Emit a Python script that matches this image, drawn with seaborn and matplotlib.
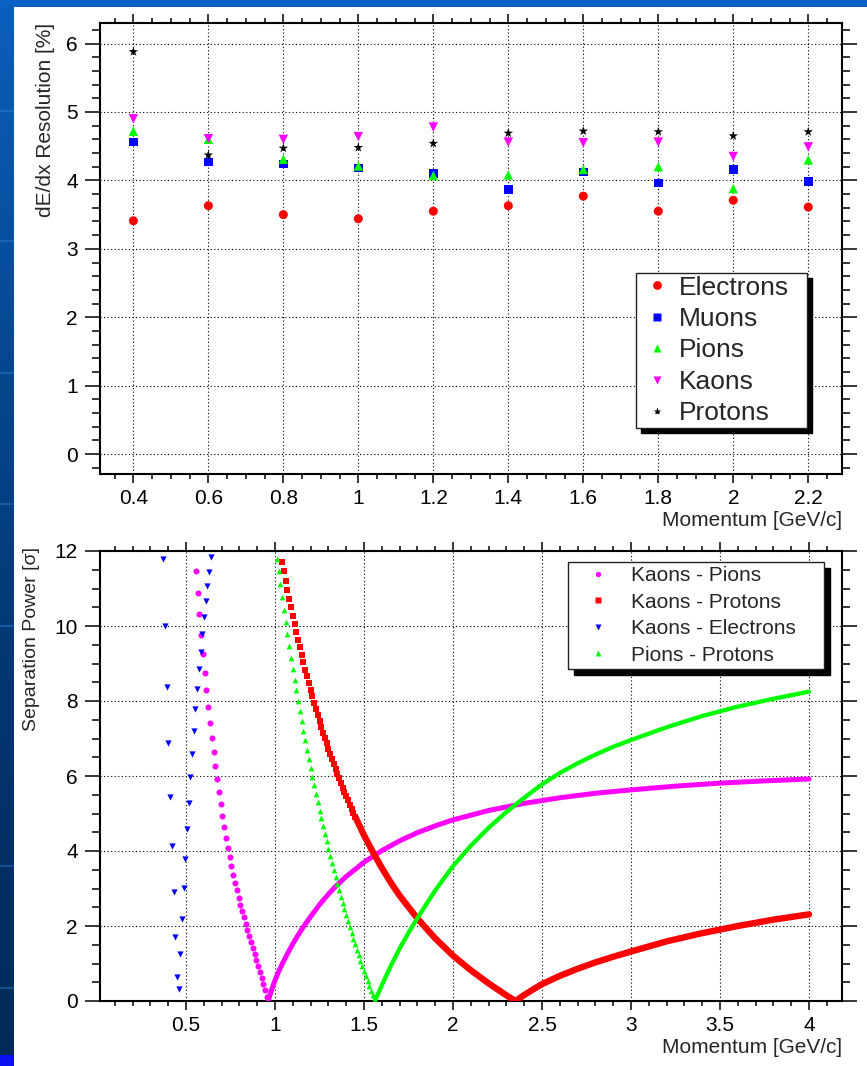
import matplotlib
matplotlib.use("Agg")
import matplotlib.pyplot as plt
import numpy as np
import pandas as pd
import seaborn as sns
from matplotlib.ticker import MultipleLocator, FuncFormatter
from matplotlib.lines import Line2D
from matplotlib.patches import Rectangle
from matplotlib.colors import LinearSegmentedColormap

# ---------------- top panel data: dE/dx resolution ----------------
momentum = [0.4, 0.6, 0.8, 1.0, 1.2, 1.4, 1.6, 1.8, 2.0, 2.2]
species = ["Electrons", "Muons", "Pions", "Kaons", "Protons"]
res_electrons = [3.41, 3.63, 3.50, 3.44, 3.55, 3.63, 3.77, 3.55, 3.71, 3.61]
res_muons = [4.56, 4.27, 4.24, 4.18, 4.10, 3.87, 4.12, 3.96, 4.16, 3.98]
res_pions = [4.72, 4.60, 4.31, 4.21, 4.07, 4.08, 4.16, 4.20, 3.88, 4.30]
res_kaons = [4.90, 4.61, 4.60, 4.64, 4.78, 4.56, 4.55, 4.56, 4.35, 4.49]
res_protons = [5.88, 4.37, 4.47, 4.48, 4.54, 4.69, 4.72, 4.71, 4.65, 4.71]

# ---------------- bottom panel data: separation power ----------------
pair_labels = ["Kaons - Pions", "Kaons - Protons", "Kaons - Electrons", "Pions - Protons"]

# Kaons - Electrons (individual markers)
ke_p = [0.373, 0.382, 0.392, 0.401, 0.411, 0.420, 0.430, 0.439, 0.449, 0.458,
        0.468, 0.477, 0.487, 0.496, 0.506, 0.515, 0.525, 0.534, 0.544, 0.553,
        0.563, 0.572, 0.582, 0.591, 0.601, 0.610, 0.620, 0.629, 0.639]
ke_s = [11.78, 10.00, 8.38, 6.87, 5.45, 4.13, 2.92, 1.72, 0.65, 0.31,
        1.25, 2.18, 3.02, 3.80, 4.58, 5.28, 5.97, 6.60, 7.20, 7.78,
        8.31, 8.85, 9.32, 9.80, 10.25, 10.67, 11.08, 11.45, 11.83]

# Kaons - Pions: steep branch (separate markers) and dense branch
kpi_steep_p = [0.555, 0.565, 0.575, 0.585, 0.595, 0.605, 0.615, 0.625, 0.635, 0.645,
               0.655, 0.665, 0.675, 0.685, 0.695, 0.705, 0.715, 0.725, 0.735, 0.745,
               0.755, 0.765, 0.775, 0.785, 0.795, 0.805, 0.815, 0.825, 0.835, 0.845,
               0.855, 0.865, 0.875, 0.885, 0.895, 0.905, 0.915, 0.925, 0.935, 0.945,
               0.955]
kpi_steep_s = [11.48, 10.88, 10.31, 9.77, 9.25, 8.76, 8.29, 7.85, 7.42, 7.02,
               6.63, 6.26, 5.91, 5.57, 5.25, 4.94, 4.65, 4.36, 4.09, 3.84,
               3.60, 3.37, 3.16, 2.95, 2.76, 2.57, 2.40, 2.23, 2.06, 1.89,
               1.73, 1.57, 1.41, 1.25, 1.09, 0.93, 0.77, 0.61, 0.45, 0.29,
               0.12]
kpi_dense_p = [0.962, 0.97, 0.98, 0.99, 1.00, 1.02, 1.04, 1.06, 1.08, 1.10,
               1.13, 1.16, 1.20, 1.25, 1.30, 1.35, 1.40, 1.50, 1.60, 1.70,
               1.80, 1.90, 2.00, 2.20, 2.40, 2.60, 2.80, 3.00, 3.25, 3.50,
               3.75, 4.00]
kpi_dense_s = [0.0, 0.13, 0.28, 0.42, 0.55, 0.78, 0.98, 1.17, 1.35, 1.52,
               1.76, 1.98, 2.25, 2.57, 2.85, 3.10, 3.32, 3.70, 4.01, 4.27,
               4.49, 4.67, 4.83, 5.08, 5.27, 5.42, 5.54, 5.63, 5.73, 5.81,
               5.87, 5.92]

# Kaons - Protons
kpr_steep_p = [1.04, 1.05, 1.06, 1.07, 1.08, 1.09, 1.10, 1.11, 1.12, 1.13,
               1.14, 1.15, 1.16, 1.17, 1.18, 1.19, 1.20, 1.21, 1.22, 1.23,
               1.24, 1.25, 1.26, 1.27, 1.28, 1.29, 1.30, 1.31, 1.32, 1.33,
               1.34, 1.35, 1.36, 1.37, 1.38, 1.39, 1.40, 1.41, 1.42, 1.43,
               1.44, 1.45]
kpr_steep_s = [11.71, 11.46, 11.21, 10.96, 10.73, 10.50, 10.27, 10.05, 9.84, 9.63,
               9.43, 9.23, 9.03, 8.84, 8.66, 8.48, 8.30, 8.13, 7.96, 7.79,
               7.63, 7.47, 7.32, 7.16, 7.02, 6.87, 6.73, 6.59, 6.45, 6.32,
               6.19, 6.06, 5.94, 5.82, 5.69, 5.58, 5.46, 5.35, 5.24, 5.13,
               5.02, 4.92]
kpr_dense_p = [1.45, 1.50, 1.55, 1.60, 1.65, 1.70, 1.80, 1.90, 2.00, 2.10,
               2.20, 2.30, 2.35, 2.40, 2.45, 2.50, 2.60, 2.70, 2.80, 2.90,
               3.00, 3.20, 3.40, 3.60, 3.80, 4.00]
kpr_dense_s = [4.92, 4.42, 3.97, 3.55, 3.16, 2.81, 2.20, 1.67, 1.21, 0.82,
               0.47, 0.15, 0.0, 0.16, 0.31, 0.45, 0.67, 0.86, 1.03, 1.18,
               1.32, 1.59, 1.81, 2.00, 2.17, 2.31]

# Pions - Protons
pipr_steep_p = [1.01, 1.02, 1.03, 1.04, 1.05, 1.06, 1.07, 1.08, 1.09, 1.10,
                1.11, 1.12, 1.13, 1.14, 1.15, 1.16, 1.17, 1.18, 1.19, 1.20,
                1.21, 1.22, 1.23, 1.24, 1.25, 1.26, 1.27, 1.28, 1.29, 1.30,
                1.31, 1.32, 1.33, 1.34, 1.35, 1.36, 1.37, 1.38, 1.39, 1.40,
                1.41, 1.42, 1.43, 1.44, 1.45, 1.46, 1.47, 1.48, 1.49, 1.50,
                1.51, 1.52, 1.53, 1.54, 1.55, 1.56]
pipr_steep_s = [11.78, 11.46, 11.11, 10.77, 10.43, 10.10, 9.78, 9.47, 9.16, 8.86,
                8.57, 8.29, 8.01, 7.73, 7.47, 7.20, 6.95, 6.70, 6.45, 6.21,
                5.98, 5.75, 5.52, 5.30, 5.08, 4.87, 4.66, 4.46, 4.26, 4.06,
                3.87, 3.68, 3.49, 3.31, 3.13, 2.96, 2.78, 2.62, 2.45, 2.29,
                2.13, 1.97, 1.81, 1.66, 1.51, 1.37, 1.22, 1.08, 0.94, 0.80,
                0.67, 0.53, 0.40, 0.28, 0.15, 0.02]
pipr_dense_p = [1.56, 1.58, 1.60, 1.65, 1.70, 1.75, 1.80, 1.90, 2.00, 2.10,
                2.20, 2.30, 2.40, 2.50, 2.60, 2.70, 2.80, 2.90, 3.00, 3.20,
                3.40, 3.60, 3.80, 4.00]
pipr_dense_s = [0.0, 0.20, 0.42, 0.93, 1.40, 1.82, 2.21, 2.95, 3.60, 4.14,
                4.62, 5.04, 5.42, 5.78, 6.08, 6.34, 6.57, 6.78, 6.96, 7.30,
                7.60, 7.85, 8.06, 8.25]

# ---------------- style ----------------
sns.set_style("ticks")
plt.rcParams["font.family"] = ["Liberation Sans", "DejaVu Sans"]
plt.rcParams["axes.unicode_minus"] = False

W, H = 867, 1066
fig = plt.figure(figsize=(W / 100, H / 100), dpi=100, facecolor="white")

# slide background decoration (blue left/top border)
bg = fig.add_axes([0, 0, 1, 1], zorder=-10)
bg.set_xlim(0, W)
bg.set_ylim(H, 0)
bg.axis("off")
cmap = LinearSegmentedColormap.from_list("slide", ["#0b5fbd", "#064890", "#03356f", "#022a58"])
bg.imshow(np.linspace(0, 1, 256)[:, None], cmap=cmap, extent=[0, 14, H, 0], aspect="auto")
bg.add_patch(Rectangle((0, 0), W, 7, color="#0a63c4", lw=0))
for yy in [110, 240, 372, 503, 625, 865, 987]:
    bg.add_patch(Rectangle((0, yy), 14, 2, color="#2a7fd8", alpha=0.45, lw=0))
bg.add_patch(Rectangle((0, 1055), 14, 11, color="#0a12f2", lw=0))

ax1 = fig.add_axes([100 / W, 1 - 474 / H, 742 / W, 451 / H])
ax2 = fig.add_axes([100 / W, 1 - 1001 / H, 742 / W, 450 / H])


def style_axes(ax, xmaj, xminor, ymaj, yminor):
    for sp in ax.spines.values():
        sp.set_visible(True)
        sp.set_linewidth(1.5)
        sp.set_color("black")
    ax.set_facecolor("white")
    ax.xaxis.set_major_locator(MultipleLocator(xmaj))
    ax.xaxis.set_minor_locator(MultipleLocator(xminor))
    ax.yaxis.set_major_locator(MultipleLocator(ymaj))
    ax.yaxis.set_minor_locator(MultipleLocator(yminor))
    fmt = FuncFormatter(lambda v, _: f"{v:g}")
    ax.xaxis.set_major_formatter(fmt)
    ax.yaxis.set_major_formatter(fmt)
    ax.tick_params(axis="both", which="both", direction="out", top=True, right=True,
                   labeltop=False, labelright=False, width=1.1, color="black",
                   labelsize=15, labelcolor="black")
    ax.tick_params(axis="x", which="major", length=6.8, pad=4)
    ax.tick_params(axis="x", which="minor", length=3.6)
    ax.tick_params(axis="y", which="major", length=11, pad=5)
    ax.tick_params(axis="y", which="minor", length=6)
    ax.grid(True, which="major", color="black", linestyle=(0, (1, 2.2)), linewidth=0.8)
    ax.set_axisbelow(True)


# ---------------- top panel ----------------
df_top = pd.DataFrame({
    "Momentum": momentum * len(species),
    "Resolution": res_electrons + res_muons + res_pions + res_kaons + res_protons,
    "Species": np.repeat(species, len(momentum)),
})
top_palette = {"Electrons": "#ff0000", "Muons": "#0000ff", "Pions": "#00ff00",
               "Kaons": "#ff00ff", "Protons": "#000000"}
top_markers = {"Electrons": "o", "Muons": "s", "Pions": "^", "Kaons": "v", "Protons": "*"}
top_sizes = {"Electrons": 42, "Muons": 38, "Pions": 46, "Kaons": 46, "Protons": 52}
sns.scatterplot(data=df_top, x="Momentum", y="Resolution", hue="Species", style="Species",
                size="Species", hue_order=species, style_order=species, size_order=species,
                palette=top_palette, markers=top_markers, sizes=top_sizes,
                linewidth=0, legend=False, ax=ax1, zorder=3)
ax1.set_xlim(0.311, 2.29)
ax1.set_ylim(-0.29, 6.3)
style_axes(ax1, 0.2, 0.05, 1, 0.2)
ax1.set_xlabel("Momentum [GeV/c]", fontsize=15, loc="right")
ax1.xaxis.set_label_coords(1.0, -0.082)
ax1.set_ylabel("dE/dx Resolution [%]", fontsize=15, loc="top")
ax1.yaxis.set_label_coords(-0.0606, 1.0)

h1 = [Line2D([0], [0], marker=top_markers[s], linestyle="none", markerfacecolor=top_palette[s],
             markeredgecolor="none", markersize=(6.3 if s != "Protons" else 6.0)) for s in species]
leg1 = ax1.legend(h1, species, loc="upper left", bbox_to_anchor=(0.7224, 0.4457 - 0.5, 0.2305, 0.5),
                  mode="expand", borderaxespad=0, fontsize=19, frameon=True, fancybox=False,
                  edgecolor="#222222", facecolor="white", framealpha=1, borderpad=0.1,
                  labelspacing=0.28, handlelength=1.39, handletextpad=0.14,
                  shadow={"ox": 3.6, "oy": -3.6, "shade": 1.0, "alpha": 1.0})
leg1.get_frame().set_linewidth(1.0)

# ---------------- bottom panel ----------------
c_kpi, c_kpr, c_ke, c_pipr = "#ff00ff", "#ff0000", "#0000ff", "#00ff00"

sns.lineplot(x=kpi_dense_p, y=kpi_dense_s, color=c_kpi, linewidth=3.6, estimator=None,
             sort=False, ax=ax2, zorder=3, solid_capstyle="round", solid_joinstyle="round")
sns.scatterplot(x=kpi_steep_p, y=kpi_steep_s, color=c_kpi, marker="o", s=19, linewidth=0,
                ax=ax2, zorder=3)
sns.lineplot(x=kpr_dense_p, y=kpr_dense_s, color=c_kpr, linewidth=4.6, estimator=None,
             sort=False, ax=ax2, zorder=4, solid_capstyle="round", solid_joinstyle="round")
sns.scatterplot(x=kpr_steep_p, y=kpr_steep_s, color=c_kpr, marker="s", s=19, linewidth=0,
                ax=ax2, zorder=4)
sns.scatterplot(x=ke_p, y=ke_s, color=c_ke, marker="v", s=20, linewidth=0, ax=ax2, zorder=5)
sns.lineplot(x=pipr_dense_p, y=pipr_dense_s, color=c_pipr, linewidth=3.1, estimator=None,
             sort=False, ax=ax2, zorder=6, solid_capstyle="round", solid_joinstyle="round")
sns.scatterplot(x=pipr_steep_p, y=pipr_steep_s, color=c_pipr, marker="^", s=17, linewidth=0,
                ax=ax2, zorder=6)

ax2.set_xlim(0.017, 4.185)
ax2.set_ylim(0, 12)
style_axes(ax2, 0.5, 0.1, 2, 0.5)
ax2.set_xlabel("Momentum [GeV/c]", fontsize=15, loc="right")
ax2.xaxis.set_label_coords(1.0, -0.082)
ax2.set_ylabel("Separation Power [σ]", fontsize=14, loc="top")
ax2.yaxis.set_label_coords(-0.081, 1.009)

h2 = [Line2D([0], [0], marker=m, linestyle="none", markerfacecolor=c, markeredgecolor="none",
             markersize=3.8)
      for m, c in zip(["o", "s", "v", "^"], [c_kpi, c_kpr, c_ke, c_pipr])]
leg2 = ax2.legend(h2, pair_labels, loc="upper left", bbox_to_anchor=(0.6307, 0.9756 - 0.5, 0.345, 0.5),
                  mode="expand", borderaxespad=0, fontsize=15, frameon=True, fancybox=False,
                  edgecolor="#222222", facecolor="white", framealpha=1, borderpad=0.2,
                  labelspacing=0.36, handlelength=2.5, handletextpad=0.33,
                  shadow={"ox": 4.3, "oy": -4.3, "shade": 1.0, "alpha": 1.0})
leg2.get_frame().set_linewidth(1.0)

fig.savefig("out.png", dpi=100, facecolor="white")
